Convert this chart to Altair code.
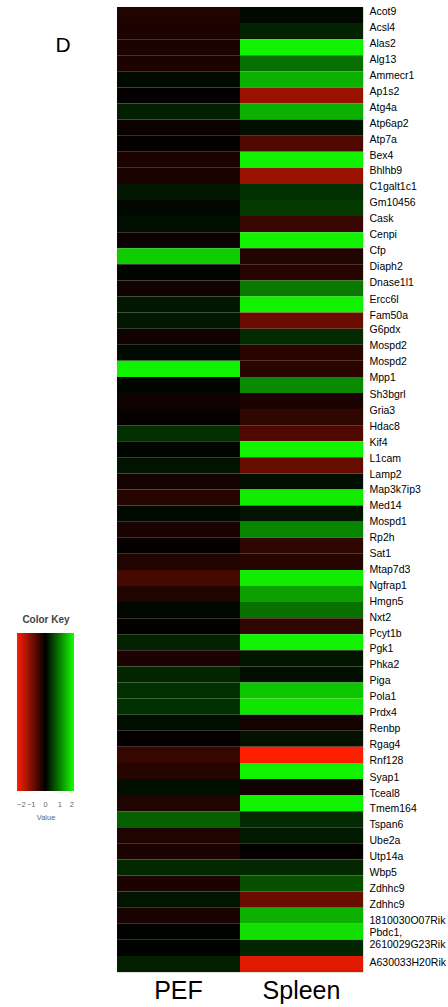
import altair as alt
import pandas as pd

genes = ["Acot9", "Acsl4", "Alas2", "Alg13", "Ammecr1", "Ap1s2", "Atg4a", "Atp6ap2", "Atp7a", "Bex4",
         "Bhlhb9", "C1galt1c1", "Gm10456", "Cask", "Cenpi", "Cfp", "Diaph2", "Dnase1l1", "Ercc6l", "Fam50a",
         "G6pdx", "Mospd2", "Mospd2", "Mpp1", "Sh3bgrl", "Gria3", "Hdac8", "Kif4", "L1cam", "Lamp2",
         "Map3k7ip3", "Med14", "Mospd1", "Rp2h", "Sat1", "Mtap7d3", "Ngfrap1", "Hmgn5", "Nxt2", "Pcyt1b",
         "Pgk1", "Phka2", "Piga", "Pola1", "Prdx4", "Renbp", "Rgag4", "Rnf128", "Syap1", "Tceal8",
         "Tmem164", "Tspan6", "Ube2a", "Utp14a", "Wbp5", "Zdhhc9", "Zdhhc9", "1810030O07Rik",
         "Pbdc1,|2610029G23Rik", "A630033H20Rik"]

pef = [-0.25, -0.22, -0.22, -0.22, 0.08, -0.04, 0.25, -0.08, -0.04, -0.2,
       -0.2, 0.19, 0.06, 0.12, -0.08, 1.6, 0.04, -0.12, 0.19, 0.19,
       -0.12, 0.08, 1.9, 0.04, -0.12, -0.04, 0.38, 0.04, 0.16, -0.16,
       -0.3, 0.08, -0.2, -0.04, -0.25, -0.55, -0.25, 0.06, -0.04, 0.27,
       -0.2, 0.3, 0.38, 0.38, 0.12, -0.04, -0.42, -0.3, 0.12, -0.25,
       0.75, -0.25, -0.2, 0.31, -0.2, 0.16, -0.2, 0.02, 0.02, 0.25]

spleen = [0.06, 0.27, 1.9, 0.88, 1.38, -1.2, 1.38, 0.12, -0.63, 1.9,
          -1.2, 0.38, 0.45, -0.45, 1.9, -0.25, -0.3, 0.95, 1.9, -0.83,
          0.33, -0.33, -0.33, 1.08, -0.2, -0.38, -0.63, 1.9, -0.8, 0.12,
          1.85, 0.16, 1.05, -0.38, -0.3, 1.85, 1.25, 0.88, -0.38, 1.9,
          0.16, 0.12, 1.55, 1.8, -0.16, 0.14, -2.0, 1.9, -0.12, 1.9,
          0.33, 0.2, -0.04, 0.31, 0.63, -0.83, 1.38, 1.75, 0.3, -1.75]

samples = ["PEF", "Spleen"]
key_values = [-2, -1, 0, 1, 2]

rows = []
for i, g in enumerate(genes):
    key = f"{i:02d}#{g}"
    rows.append({"row": key, "sample": samples[0], "value": pef[i]})
    rows.append({"row": key, "sample": samples[1], "value": spleen[i]})
df = pd.DataFrame(rows)
row_order = [f"{i:02d}#{g}" for i, g in enumerate(genes)]

FONT = "Liberation Sans, Arial, sans-serif"
NARROW = "Liberation Sans Narrow, Arial Narrow, Liberation Sans, sans-serif"

IDX = "toNumber(slice(datum.value, 0, 2))"
label_offset = {
    "condition": [
        {"test": f"{IDX} == 58", "value": -15},
        {"test": f"{IDX} == 59", "value": -1},
        {"test": f"{IDX} < 10", "value": -3.5},
        {"test": f"{IDX} < 20", "value": -5},
        {"test": f"{IDX} < 30", "value": -6.5},
        {"test": f"{IDX} < 40", "value": -8},
        {"test": f"{IDX} < 50", "value": -9.5},
    ],
    "value": -10.5,
}

heat = alt.Chart(df).mark_rect().encode(
    x=alt.X("sample:N", sort=samples, title=None,
            scale=alt.Scale(paddingInner=0, paddingOuter=0),
            axis=alt.Axis(orient="bottom", labelAngle=0, labelFontSize=25, labelFont=FONT,
                          labelColor="black", labelPadding=6, ticks=False, domain=False)),
    y=alt.Y("row:N", sort=row_order, title=None,
            scale=alt.Scale(paddingInner=0, paddingOuter=0),
            axis=alt.Axis(orient="right", labelFontSize=10.5, labelFont=FONT, labelColor="black",
                          labelPadding=6, labelOffset=label_offset, ticks=False, domain=False,
                          labelLineHeight=12.5,
                          labelExpr="split(split(datum.label, '#')[1], '|')")),
    color=alt.Color("value:Q",
                    scale=alt.Scale(domain=[-2, 0, 2], range=["#ff1e00", "#000000", "#12ff00"],
                                    interpolate="rgb", clamp=True),
                    legend=alt.Legend(orient="none", legendX=-100, legendY=608,
                                      direction="horizontal", title="Color Key",
                                      titleFont=NARROW, titleFontSize=10,
                                      titleFontWeight="bold", titleColor="#444444",
                                      titleAnchor="middle", titlePadding=8,
                                      gradientLength=57, gradientThickness=158,
                                      gradientStrokeWidth=0, values=key_values,
                                      labelFontSize=7.5, labelColor="#666666", labelFont=FONT,
                                      labelOffset=10, labelOverlap=False)),
)

letter = alt.Chart(pd.DataFrame({"t": ["D"]})).mark_text(
    font=FONT, fontSize=21, color="black", align="center", baseline="middle"
).encode(x=alt.value(-54), y=alt.value(39), text="t:N")

value_lbl = alt.Chart(pd.DataFrame({"t": ["Value"]})).mark_text(
    font=FONT, fontSize=7.5, color="#666666", align="center", baseline="middle"
).encode(x=alt.value(-71), y=alt.value(811), text="t:N")

chart = alt.layer(heat, letter, value_lbl).properties(
    width=246, height=965,
    autosize=alt.AutoSizeParams(type="none"),
    padding={"left": 117, "top": 7, "right": 85, "bottom": 35},
).configure_view(stroke="#cccccc", strokeWidth=2).configure(background="white")

chart.save("out.html", embed_options={"renderer": "svg", "actions": False})
